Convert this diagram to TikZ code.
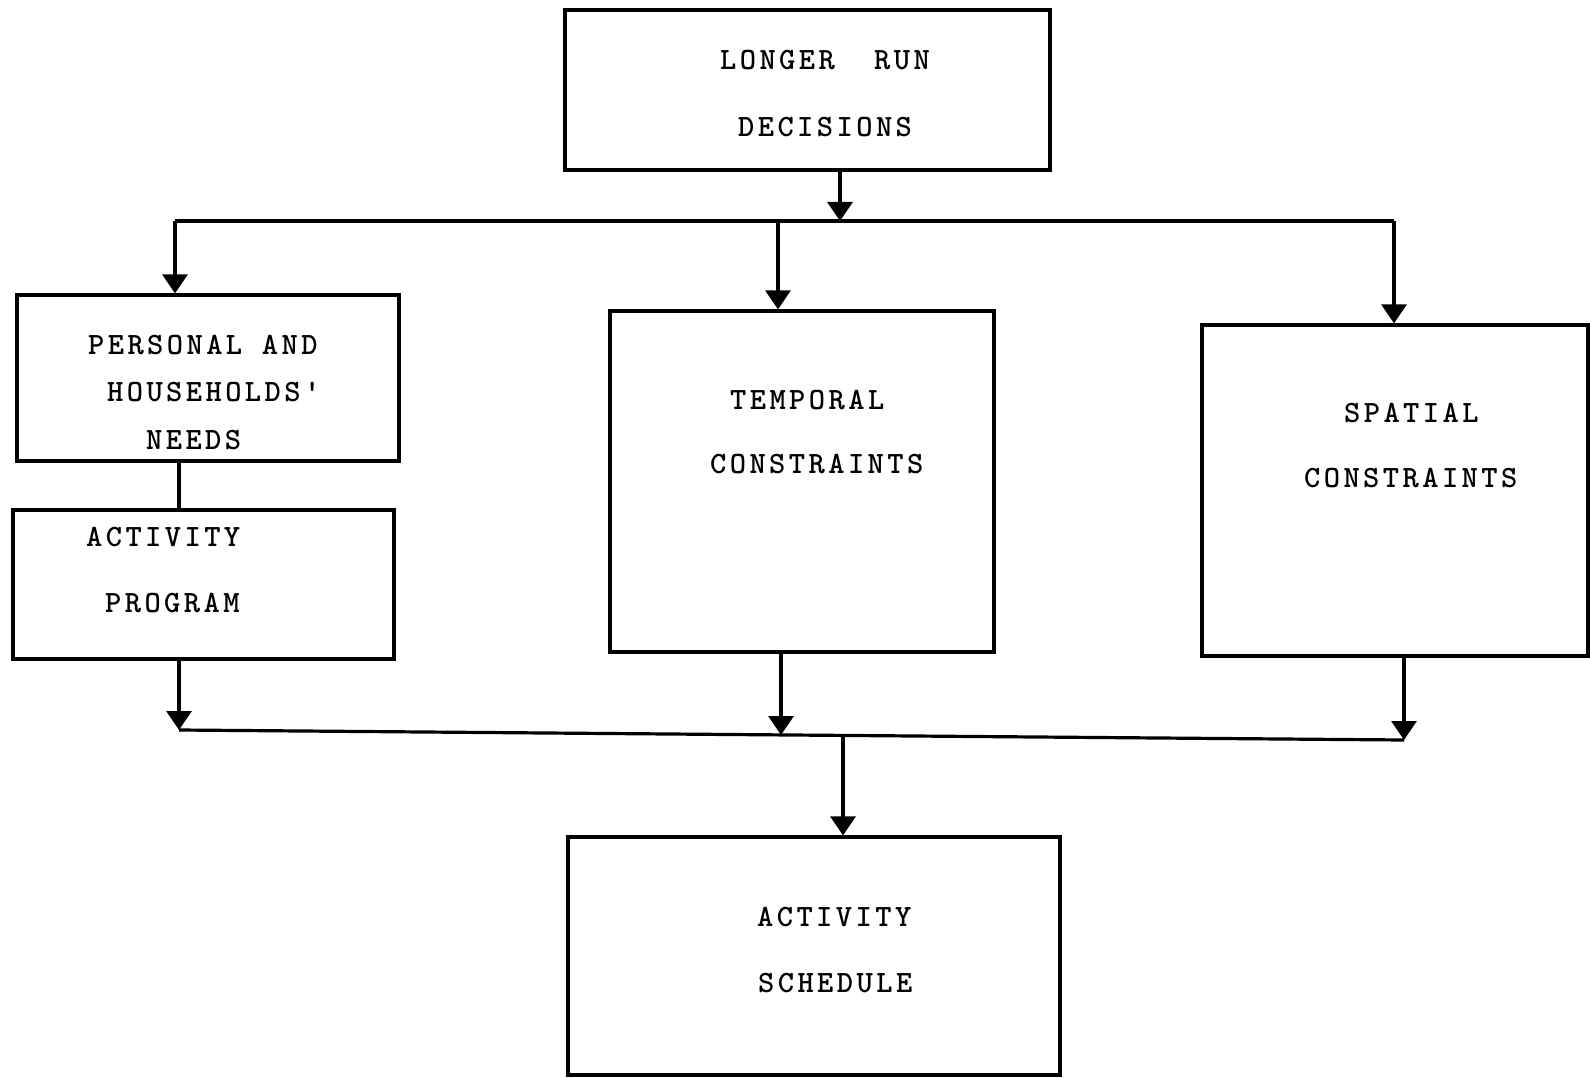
\documentclass[tikz,border=0pt]{standalone}
\usepackage{fontspec}
\newfontfamily\tw{lmmonolt10-bold}[Extension=.otf,LetterSpace=11]
\usetikzlibrary{arrows.meta}
\begin{document}
\begin{tikzpicture}[x=1pt,y=-1pt,
  box/.style={draw,line width=3.2pt,inner sep=0pt,rectangle},
  lbl/.style={anchor=base west,inner sep=0pt,font=\tw\fontsize{31}{37}\selectfont},
  link/.style={line width=3.2pt},
  arr/.style={line width=3.2pt,-{Triangle[width=25pt,length=19pt]}}]
\useasboundingbox[fill=white] (0,0) rectangle (1590,1078);
% boxes
\node[box,minimum width=485pt,minimum height=160pt] (top) at (807.5,90) {};
\node[box,minimum width=382pt,minimum height=166pt] (pers) at (208,378) {};
\node[box,minimum width=381pt,minimum height=149pt] (prog) at (203.5,584.5) {};
\node[box,minimum width=384pt,minimum height=341pt] (temp) at (802,481.5) {};
\node[box,minimum width=386pt,minimum height=331pt] (spat) at (1395,490.5) {};
\node[box,minimum width=492pt,minimum height=238pt] (bot) at (814,956) {};
% texts
\node[lbl] (t1) at (720,70) {LONGER~~RUN};
\node[lbl] (t2) at (738,137) {DECISIONS};
\node[lbl] (p1) at (88,354) {PERSONAL AND};
\node[lbl] (p2) at (107,401) {HOUSEHOLDS'};
\node[lbl] (p3) at (146,449) {NEEDS};
\node[lbl] (a1) at (86,546) {ACTIVITY};
\node[lbl] (a2) at (105,612) {PROGRAM};
\node[lbl] (m1) at (730,409) {TEMPORAL};
\node[lbl] (m2) at (710,473) {CONSTRAINTS};
\node[lbl] (s1) at (1344,422) {SPATIAL};
\node[lbl] (s2) at (1304,487) {CONSTRAINTS};
\node[lbl] (b1) at (757,926) {ACTIVITY};
\node[lbl] (b2) at (758,992) {SCHEDULE};
% top bus
\coordinate (tc) at (840,221);
\coordinate (tl) at (175,221);
\coordinate (tm) at (778,221);
\coordinate (tr) at (1394,221);
\draw[link] (tl) -- (tr);
\draw[arr] (top.south -| tc) -- (tc);
\draw[arr] (tl) -- (tl |- pers.north);
\draw[arr] (tm) -- (tm |- temp.north);
\draw[arr] (tr) -- (tr |- spat.north);
% link between personal needs and activity program
\coordinate (pc) at (179,0);
\draw[link] (pers.south -| pc) -- (prog.north -| pc);
% bottom bus
\coordinate (cl) at (179,730);
\coordinate (cm) at (781,735);
\coordinate (cc) at (843,735.5);
\coordinate (cr) at (1404,740);
\draw[link] (cl) -- (cr);
\draw[arr] (prog.south -| cl) -- (cl);
\draw[arr] (temp.south -| cm) -- (cm);
\draw[arr] (spat.south -| cr) -- (cr);
\draw[arr] (cc) -- (cc |- bot.north);
\end{tikzpicture}
\end{document}
